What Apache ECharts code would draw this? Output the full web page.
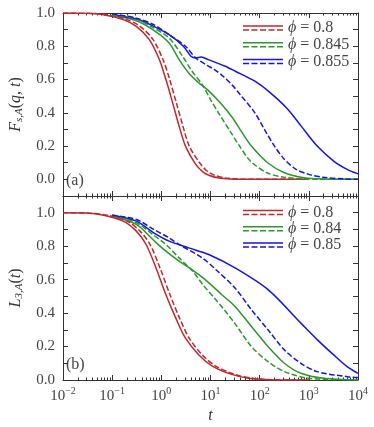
<!DOCTYPE html>
<html>
<head>
<meta charset="utf-8">
<script src="https://cdn.jsdelivr.net/npm/echarts@6/dist/echarts.min.js"></script>
<style>html,body{margin:0;padding:0;background:#fff}#main{width:374px;height:427px}</style>
</head>
<body>
<div id="main"></div>
<script>
/* legend labels */
var phiA = ['0.8', '0.845', '0.855'];
var phiB = ['0.8', '0.84', '0.85'];
var colors = ['#c0282d', '#2e962e', '#1515e0'];

/* panel (a): F_s,A(q,t), [t, value] */
var aRed = [[0.01,1.0],[0.03,0.998],[0.067,0.99],[0.168,0.96],[0.31,0.92],[0.57,0.84],[0.91,0.72],[1.24,0.6],[1.7,0.46],[2.3,0.32],[3.1,0.2],[5.0,0.09],[7,0.045],[9.2,0.025],[15,0.008],[25,0.002],[60,0],[1000,0]];
var aRedDash = [[0.01,1.0],[0.03,0.998],[0.08,0.99],[0.2,0.96],[0.37,0.92],[0.68,0.84],[1.08,0.72],[1.48,0.6],[2.02,0.46],[2.75,0.32],[3.7,0.2],[6.0,0.1],[8.5,0.05],[12,0.025],[20,0.008],[35,0.002],[80,0],[1000,0]];
var aGreen = [[0.1,0.985],[0.3,0.955],[0.67,0.9],[1.44,0.82],[2.3,0.72],[3.6,0.64],[5.8,0.58],[9,0.535],[17,0.45],[28,0.37],[42,0.29],[68,0.2],[145,0.1],[320,0.04],[800,0.01],[2000,0.002],[10000,0]];
var aGreenDash = [[0.1,0.99],[0.3,0.965],[0.7,0.91],[1.44,0.85],[2.7,0.74],[4.2,0.65],[6.8,0.57],[10,0.48],[16,0.38],[25,0.29],[37,0.21],[65,0.11],[140,0.04],[320,0.012],[1000,0.002],[10000,0]];
var aBlue = [[0.1,0.99],[0.3,0.965],[0.7,0.92],[1.44,0.87],[2.8,0.8],[4.0,0.74],[5.0,0.73],[6.5,0.735],[9,0.72],[20,0.68],[32,0.65],[80,0.59],[150,0.53],[350,0.43],[700,0.32],[1480,0.2],[3200,0.11],[6000,0.06],[10000,0.033]];
var aBlueDash = [[0.1,0.995],[0.3,0.97],[0.7,0.93],[1.44,0.87],[3.1,0.8],[5,0.73],[8,0.69],[12,0.66],[18,0.62],[28,0.565],[40,0.51],[80,0.4],[125,0.3],[200,0.2],[320,0.12],[550,0.06],[1000,0.03],[2000,0.012],[5000,0.003],[10000,0]];

/* panel (b): L_3,A(t) */
var bRed = [[0.01,1.0],[0.03,0.998],[0.067,0.985],[0.168,0.95],[0.31,0.89],[0.49,0.81],[0.78,0.67],[1.24,0.51],[1.97,0.37],[3.1,0.25],[5.8,0.15],[10.7,0.085],[26,0.035],[60,0.01],[150,0.002],[500,0],[1000,0]];
var bRedDash = [[0.01,1.0],[0.03,0.998],[0.08,0.985],[0.2,0.95],[0.37,0.89],[0.59,0.81],[0.94,0.67],[1.5,0.51],[2.35,0.37],[3.7,0.25],[6.8,0.15],[12.5,0.085],[30,0.035],[70,0.01],[170,0.002],[500,0],[1000,0]];
var bGreen = [[0.1,0.98],[0.31,0.93],[0.67,0.84],[1.24,0.77],[2.3,0.71],[4.2,0.66],[7.8,0.6],[17,0.51],[31.5,0.44],[68,0.32],[148,0.2],[318,0.1],[690,0.04],[2000,0.01],[10000,0]];
var bGreenDash = [[0.1,0.985],[0.31,0.94],[0.67,0.87],[1.24,0.81],[2.3,0.73],[4.5,0.645],[7,0.57],[12,0.49],[19,0.42],[31,0.34],[68,0.2],[148,0.11],[318,0.05],[1000,0.01],[10000,0]];
var bBlue = [[0.1,0.985],[0.31,0.95],[0.7,0.88],[1.44,0.83],[3.6,0.79],[9.2,0.75],[31.5,0.67],[148,0.54],[690,0.34],[1500,0.24],[3200,0.15],[6000,0.08],[10000,0.04]];
var bBlueDash = [[0.1,0.985],[0.31,0.96],[0.7,0.9],[1.44,0.85],[2.3,0.81],[6.8,0.73],[14,0.65],[31.5,0.55],[68,0.42],[148,0.3],[318,0.18],[690,0.1],[1480,0.05],[6000,0.02],[10000,0.015]];

var FONT = 'Liberation Serif';
var INK = '#333';
var TXT = '#444';

function powLabel(v){
	var e = Math.round(Math.log10(v));
	return '{b|10}{s|' + (e < 0 ? '\u2212' + (-e) : e) + '}';
}
function yLabel(v){
	var k = Math.round(v * 10);
	return (k % 2 === 0 && k >= 0 && k <= 10) ? (k / 10).toFixed(1) : '';
}

function xAx(g, pos, labels){
	return {
		type: 'log', logBase: 10, min: 0.01, max: 10000, gridIndex: g, position: pos,
		axisLine: {show: true, onZero: false, lineStyle: {color: INK, width: 1}},
		axisTick: {show: true, inside: true, length: 5, lineStyle: {color: INK}},
		minorTick: {show: true, splitNumber: 9, length: 2.5, lineStyle: {color: INK}},
		splitLine: {show: false},
		minorSplitLine: {show: false},
		axisLabel: {
			show: labels, formatter: powLabel, margin: 6, color: TXT,
			rich: {
				b: {fontFamily: FONT, fontSize: 15, color: TXT},
				s: {fontFamily: FONT, fontSize: 10, color: TXT, padding: [0, 0, 10, 0]}
			}
		},
		name: labels ? 't' : '', nameLocation: 'middle', nameGap: 28,
		nameTextStyle: {fontFamily: FONT, fontSize: 16, fontStyle: 'italic', color: INK}
	};
}
function yAx(g, pos, min, max, name){
	return {
		type: 'value', gridIndex: g, position: pos, min: min, max: max, interval: 0.1,
		axisLine: {show: true, onZero: false, lineStyle: {color: INK, width: 1}},
		axisTick: {show: true, inside: true, length: 5, lineStyle: {color: INK}},
		splitLine: {show: false},
		axisLabel: {show: pos === 'left', interval: 0, formatter: yLabel, margin: 8,
			fontFamily: FONT, fontSize: 15, color: TXT},
		name: name || '', nameLocation: 'middle', nameGap: 38,
		nameTextStyle: {
			fontFamily: FONT, fontSize: 16, color: INK,
			rich: {
				i: {fontFamily: FONT, fontSize: 16, fontStyle: 'italic', color: INK},
				n: {fontFamily: FONT, fontSize: 16, color: INK},
				sub: {fontFamily: FONT, fontSize: 11, fontStyle: 'italic', color: INK, padding: [7, 0, 0, 0]}
			}
		}
	};
}
function ser(name, data, color, dashed, g){
	return {
		type: 'line', name: name, xAxisIndex: g * 2, yAxisIndex: g * 2, data: data,
		symbol: 'none', showSymbol: false, smooth: 0.3, clip: true,
		lineStyle: {color: color, width: 1.5, type: dashed ? [5.5, 2.4] : 'solid'},
		itemStyle: {color: color},
		z: dashed ? 3 : 2
	};
}
/* legend: a solid and a dashed sample line per phi, then the label */
function legendRows(labels, y0, step){
	var out = [];
	labels.forEach(function(p, i){
		var y = y0 + i * step;
		out.push({type: 'line', shape: {x1: 243, y1: y - 2, x2: 283, y2: y - 2},
			style: {stroke: colors[i], lineWidth: 1.5}});
		out.push({type: 'line', shape: {x1: 243, y1: y + 2, x2: 283, y2: y + 2},
			style: {stroke: colors[i], lineWidth: 1.5, lineDash: [6, 2.5]}});
		out.push({type: 'text', x: 288, y: y, style: {
			text: '{p|\u03d5} = ' + p, verticalAlign: 'middle', fill: TXT,
			font: '16px "Liberation Serif"',
			rich: {p: {fontFamily: FONT, fontSize: 16, fontStyle: 'italic', fill: TXT}}
		}});
	});
	return out;
}

var mychart = echarts.init(document.getElementById('main'));
var option = {
	animation: false,
	backgroundColor: '#fff',
	grid: [
		{left: 59, top: 13, width: 299, height: 183},
		{left: 59, top: 196, width: 299, height: 184}
	],
	xAxis: [xAx(0, 'bottom', false), xAx(0, 'top', false), xAx(1, 'bottom', true), xAx(1, 'top', false)],
	yAxis: [
		yAx(0, 'left', -0.1, 1.0, '{i|F}{sub|s,A}{n|(}{i|q}{n|, }{i|t}{n|)}'),
		yAx(0, 'right', -0.1, 1.0),
		yAx(1, 'left', 0, 1.1, '{i|L}{sub|3,A}{n|(}{i|t}{n|)}'),
		yAx(1, 'right', 0, 1.1)
	],
	graphic: [
		{type: 'text', left: 66, top: 173, style: {text: '(a)', font: '16px "Liberation Serif"', fill: TXT}},
		{type: 'text', left: 66, top: 357, style: {text: '(b)', font: '16px "Liberation Serif"', fill: TXT}}
	].concat(legendRows(phiA, 28, 16.7), legendRows(phiB, 212.5, 16.3)),
	series: [
		ser('a 0.8', aRed, colors[0], false, 0),
		ser('a 0.8 dashed', aRedDash, colors[0], true, 0),
		ser('a 0.845', aGreen, colors[1], false, 0),
		ser('a 0.845 dashed', aGreenDash, colors[1], true, 0),
		ser('a 0.855', aBlue, colors[2], false, 0),
		ser('a 0.855 dashed', aBlueDash, colors[2], true, 0),
		ser('b 0.8', bRed, colors[0], false, 1),
		ser('b 0.8 dashed', bRedDash, colors[0], true, 1),
		ser('b 0.84', bGreen, colors[1], false, 1),
		ser('b 0.84 dashed', bGreenDash, colors[1], true, 1),
		ser('b 0.85', bBlue, colors[2], false, 1),
		ser('b 0.85 dashed', bBlueDash, colors[2], true, 1)
	]
};
mychart.setOption(option);
</script>
</body>
</html>
